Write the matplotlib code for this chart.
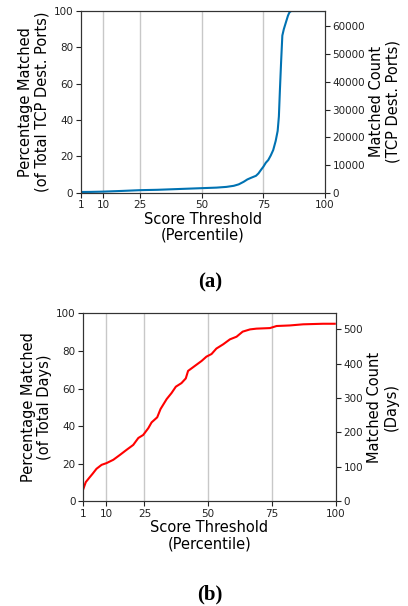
import numpy as np
import matplotlib
matplotlib.use("Agg")
import matplotlib.pyplot as plt

# panel (a): TCP destination ports
ports_x = [1, 5, 10, 18, 25, 32, 40, 50, 56, 60, 63, 65, 67, 68.5, 70, 72, 73, 74, 75, 76, 77, 78,
           79, 80, 80.8, 81.3, 81.7, 82.2, 82.7, 83.3, 84.2, 85.0, 85.6, 86.3, 90, 100]
ports_pct = [0.4, 0.45, 0.6, 1.0, 1.4, 1.6, 2.0, 2.5, 2.8, 3.2, 3.8, 4.6, 6.0, 7.3, 8.2, 9.3, 10.6, 12.5,
             14.3, 16.5, 18.0, 20.5, 23.5, 28.5, 34.0, 42.0, 56.0, 72.0, 86.5, 90.0, 94.0, 97.5, 99.3, 100, 100, 100]
ports_total = 65535

# panel (b): days
days_x = [1, 2, 3.3, 4.7, 6.2, 8.2, 10.1, 12.8, 15.4, 18, 20.6, 22.6, 24.5, 26.5, 27.8, 30, 31.3, 33.7,
          35.6, 37.3, 39.5, 41.2, 42.1, 44.8, 47.4, 49.3, 51.3, 53.2, 55.9, 58.5, 61.1, 63.5, 66.4,
          68.9, 74.2, 76.8, 82, 87.2, 95, 99.6]
days_pct = [6.4, 10.2, 12.4, 14.7, 17.3, 19.4, 20.3, 22.1, 24.7, 27.4, 30, 33.7, 35.3, 38.9, 42, 44.7,
            49.1, 54.4, 57.6, 61, 62.9, 65.4, 69.4, 72.1, 74.7, 77, 78.4, 81.3, 83.6, 86.2, 87.6, 90.3,
            91.5, 91.9, 92.2, 93.3, 93.6, 94.2, 94.5, 94.5]
days_total = 546

xticks = [1, 10, 25, 50, 75, 100]
gridx = [10, 25, 50, 75]

fig = plt.figure(figsize=(4.08, 6.06), dpi=100)


def panel(rect, x, y, total, color, left_label, right_label, caption, cap_y):
    ax = fig.add_axes(rect)
    ax.plot(x, y, color=color, lw=1.5)
    ax.set_xlim(1, 100)
    ax.set_ylim(0, 100)
    ax.set_xticks(xticks)
    for g in gridx:
        ax.axvline(g, color='#c8c8c8', lw=1, zorder=0)
    ax.tick_params(labelsize=7.5, length=3.5, pad=2, colors='#222222')
    ax.set_xlabel("Score Threshold\n(Percentile)", fontsize=10.5, labelpad=1, linespacing=1.1)
    ax.set_ylabel(left_label, fontsize=10.5, labelpad=3, linespacing=1.1)
    for s in ax.spines.values():
        s.set_color('#333333')
    ax2 = ax.twinx()
    ax2.set_ylim(0, total)
    ax2.tick_params(labelsize=7.5, length=3.5, pad=2, colors='#222222')
    ax2.set_ylabel(right_label, fontsize=10.5, labelpad=3, linespacing=1.1)
    for s in ax2.spines.values():
        s.set_color('#333333')
    fig.text(210 / 408, cap_y, caption, ha='center', va='center', fontsize=15,
             fontweight='bold', family='Liberation Serif')
    return ax


panel([0.1985, 0.682, 0.598, 0.2998], ports_x, ports_pct, ports_total, '#0072B2',
      "Percentage Matched\n(of Total TCP Dest. Ports)", "Matched Count\n(TCP Dest. Ports)",
      "(a)", 1 - 282 / 606)
panel([0.204, 0.1728, 0.619, 0.310], days_x, days_pct, days_total, '#ff0000',
      "Percentage Matched\n(of Total Days)", "Matched Count\n(Days)",
      "(b)", 1 - 594 / 606)

fig.savefig("out.png", dpi=100)
